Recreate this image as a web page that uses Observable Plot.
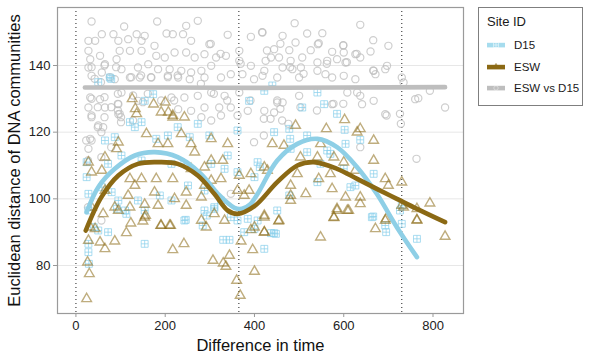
<!DOCTYPE html>
<html>
<head>
<meta charset="utf-8">
<script src="https://cdn.jsdelivr.net/npm/d3@7"></script>
<script src="https://cdn.jsdelivr.net/npm/@observablehq/plot@0.6"></script>
<style>
  body { margin: 0; background: #fff; font-family: "Liberation Sans", Arial, sans-serif; }
  #wrap { position: relative; width: 590px; height: 358px; }
  .legend { position: absolute; left: 478px; top: 7px; width: 105px; height: 99px;
            border: 1px solid #7f7f7f; box-sizing: border-box; color: #1a1a1a; }
  .legend .title { position: absolute; left: 8px; top: 6px; font-size: 13px; }
  .legend .row { position: absolute; left: 8px; height: 16px; display: flex; align-items: center; }
  .legend .row span { margin-left: 9px; font-size: 11.5px; }
</style>
</head>
<body>
<div id="wrap"></div>
<script>
// Sites and their colours
const sites = ["D15", "ESW", "ESW vs D15"];
const siteColors = ["#87CEEB", "#8B6914", "#BEBEBE"];

// Axis ticks and one-year reference marks (days)
const xTicks = [0, 200, 400, 600, 800];
const yTicks = [80, 100, 120, 140];
const yearMarks = [0, 365, 730];

// D15: [difference in time, Euclidean distance]
const d15Points = [
  [28,84],[29,80.5],[28,86.5],[154,86.5],[246,93.7],[330,87.7],[344,87.7],[422,85],[444,89.7],[437,89.7],
  [377,90],[400,91],[666,94.7],[695,90],[764,88],[730,92.5],[72,90],[50,90.5],[40,91.5],[113,95.5],
  [92,97],[284,92],[293,95],[310,97],[407,93.5],[362,93.5],
  [585,125.5],[602,120.7],[637,117.7],[604,116.5],[444,120],[478,121],[480,118],[518,119],[407,111],[412,109.5],
  [481,115],[518,114],[563,114.5],[570,113.5],[548,110.5],[600,109],[615,103.5],[626,104],[667,107.5],[541,105],
  [451,96.5],[478,101],[663,94.5],[693,92],[448,89.5],[726,96.5],[730,98],
  [24,111],[24,106.5],[28,101.5],[28,96.5],[65,117.5],[87,118.5],[121,123],[132,121.5],[147,123],[180,118],
  [206,119],[228,121.5],[255,118.5],[273,122.5],[299,119],[340,113],[362,120.5],[333,109],[303,110.5],[58,103.5],
  [80,102],[95,99.5],[110,96.5],[139,99.5],[154,96.5],[188,101],[214,99.5],[251,104],[288,102.5],[288,96.5],
  [310,97.5],[325,99.5],[243,93.5],[347,94.5],[385,94],[400,106.5],[362,108],[102,113],[72,110.5],[147,111.5],
  [214,110.5],[243,110.5],
  [76,136.4],[50,135],[173,131.4],[154,129.4],[388,129.4],[422,132.4],[440,134],[541,131.9],[507,127.4],[556,128.4],
  [79,136]
];

// ESW
const eswPoints = [
  [24,70],[30,77.5],[26,81],[28,87.5],[54,87],[65,85],[87,87.3],[113,89.8],[123,92.7],[150,93.3],
  [156,95],[190,92],[212,92],[217,84.7],[242,86.5],[307,81.5],[330,80.7],[336,79.7],[344,83],[360,75.5],
  [368,71],[400,78.2],[396,84.7],[370,87.3],[422,90],[454,93.3],[548,88.5],[578,94.3],[671,91],[695,94],
  [764,93.7],[827,88.7],[793,98.7],[730,98],[637,98.5],[608,96.5],[585,97],[481,99.5],[422,95],[392,90.7],
  [333,93.5],[310,95.5],[281,93.5],[184,98],[154,98.3],[87,97.5],[61,95.5],[32,91.5],[43,91],
  [136,125.5],[158,119.5],[95,117],[91,115],[184,116.5],[206,116.5],[236,119.5],[258,116.5],[217,124.5],[243,124.5],
  [303,118],[340,116.5],[28,111],[65,112.5],[58,108.5],[35,108],[65,102.5],[95,96.5],[121,106],[132,104],
  [117,101],[147,106],[180,106],[176,102],[217,106],[221,100],[247,102],[247,98],[281,100.5],[288,104],
  [303,105.5],[325,106],[329,111.5],[288,109.5],[258,109],[266,114],[303,111.5],[366,107],[362,102.5],[377,101],
  [392,107.5],[388,102.5],[400,91.5],[292,91.5],[191,92],[210,92],[154,94.5],[121,97.5],[35,97.5],
  [126,130],[133,127],[174,128.4],[200,129],[191,126],[207,126],[217,125],
  [602,123.7],[637,121],[630,120],[667,117.5],[561,121],[492,122],[440,116.5],[466,116],[548,116.5],[503,112.5],
  [541,112.5],[578,112.5],[600,111],[667,111.5],[422,109.5],[429,108.5],[496,107.5],[544,106],[570,107.5],[626,108.5],
  [481,104],[515,101.5],[574,103],[604,100.5],[637,100.5],[693,106],[700,104],[730,105],[764,93.5],
  [585,96.5],[611,96.5],[578,94.5],[455,93.5],[422,94.5],[422,90],[481,101],[693,93.5],[734,97.5],[764,97]
];

// ESW vs D15
const crossPoints = [
  [35,153.2],[108,151.7],[182,153.2],[247,151.9],[273,153.4],[28,147.4],[43,147.4],[58,149.4],[84,149.4],[95,147.4],
  [117,147.9],[136,149.4],[154,148.9],[147,147.4],[203,149.6],[217,149.4],[240,149.4],[258,147.4],[299,146.4],[340,149.2],
  [392,148.6],[28,144.4],[32,141.9],[28,139.4],[35,136.9],[54,142.9],[65,140.4],[98,144.4],[91,141.9],[102,138.9],
  [121,144.4],[147,144.4],[176,145.9],[180,142.9],[162,140.4],[199,142.4],[221,143.9],[247,143.9],[266,142.4],[288,143.4],
  [314,142.4],[336,142.9],[366,144.4],[366,141.4],[392,139.9],[303,139.9],[281,138.4],[258,137.9],[236,138.4],[210,138.9],
  [184,138.9],[139,139.4],[121,136.4],[58,137.9],[32,130.4],[28,127.4],[54,129.9],[95,128.4],[102,131.9],[87,135.9],
  [143,136.4],[169,136.4],[206,136.9],[229,136.4],[255,135.9],[288,136.4],[325,136.4],[347,137.4],[373,137.4],[399,135.9],
  [214,130.4],[243,130.4],[273,130.9],[303,131.9],[333,130.9],[366,131.9],[288,127.4],[321,127.4],[347,127.4],[385,126.4],
  [258,126.4],[229,126.9],[95,125.4],[65,127.4],[139,129.4],
  [490,152.7],[637,152.2],[418,149.9],[463,148.9],[518,149.6],[552,149.7],[666,147.6],[700,145.9],[492,146.9],[444,144.9],
  [478,144.6],[526,144.6],[542,146.4],[574,144.1],[599,146.1],[600,143.9],[626,143.4],[637,142.4],[660,144.2],[425,141.4],
  [437,142.4],[455,142.4],[481,141.4],[507,142.4],[541,140.9],[563,141.4],[585,141.9],[604,140.9],[697,139.9],[422,138.4],
  [463,139.4],[485,138.9],[504,139.4],[541,138.4],[559,137.4],[574,136.4],[600,136.9],[626,135.9],[667,138.4],[671,137.4],
  [693,138.9],[418,136.9],[451,136.4],[500,136.4],[730,136.4],[734,134.9],[608,131.9],[630,131.9],[637,130.9],[667,129.4],
  [793,132.4],[760,129.9],[767,130.2],[827,127.4],[451,128.9],[463,128.9],[500,130.9],[574,128.4],[641,128.4],[422,126.4],
  [444,125.9],[693,125.4],
  [726,125.5],[696,125],[763,112],[637,115.5],[577,128.5],[399,117],[421,119],[458,127],[436,124],[421,124],
  [462,123.5],[476,122.5],[728,122.5],
  [32,118],[28,115],[35,124.5],[61,121.5],[50,122],[281,124.5],[303,123.5],[325,125],[362,125],[23,117.5],
  [49,121.5],[79,127.5],[94,126.5],[101,124.5],[56,135],
  [27,97.5],[57,93.5],[347,101.5],
  [35,139.5],[64,140],[90,139.5],[42,136],[76,136.5],[124,136.5],[146,137],[168,136.5],[206,136.5],[228,137],
  [35,130],[64,130.5],[94,131.5],[128,131],[161,131.5],[49,127.5],[94,128.5],[150,129],[191,129.5],[220,129.5],
  [35,125],[64,124.5],[98,125.5],[101,123],[128,123.5],[57,120],[35,117.5],[79,115.5],[57,112.5],[27,111.5],
  [417,150],[544,146.7],[599,146],[302,146.5],[324,143.5],[369,140.5],[458,146.5],[428,144.5],[480,139.5],[510,137.5],
  [562,140.5],[607,141],[629,143.5],[666,138.5],[280,134.5],[309,131.5],[339,129.5],[391,129.5],[451,129.5],[503,127.5],
  [540,126.5],[599,128.5]
];

// Smoothed trends per site
const d15Smooth = [
  [24,96],[50,103.5],[87,109],[132,113],[177,114],[228,112.5],[280,107.5],[318,101.5],[355,97.3],[372,97],
  [390,98.3],[407,101.5],[451,111.5],[496,116.5],[541,118],[585,115.5],[630,109.5],[674,101.5],[719,91.5],[764,82.5]
];
const eswSmooth = [
  [22,90.5],[57,100.5],[95,107],[139,110.5],[184,111],[228,110.5],[273,107],[310,101.5],[340,96.5],[362,95.5],
  [400,97.8],[451,105],[496,110],[533,111],[585,109],[630,106],[674,103],[719,100],[764,97],[827,93]
];
const crossSmooth = [
  [20,133.4],[200,133.4],[400,133.3],[600,133.4],[827,133.5]
];

// Open square with a plus inside
const squareCross = {
  draw(context, size) {
    const w = Math.sqrt(size) / 2;
    context.moveTo(-w, -w); context.lineTo(w, -w); context.lineTo(w, w); context.lineTo(-w, w); context.closePath();
    context.moveTo(0, -w); context.lineTo(0, w);
    context.moveTo(-w, 0); context.lineTo(w, 0);
  }
};

const rows = (pairs, site) => pairs.map(([x, y]) => ({x, y, site}));

const chart = Plot.plot({
  width: 590,
  height: 358,
  marginLeft: 57,
  marginRight: 127,
  marginTop: 7,
  marginBottom: 45,
  x: {domain: [-41.3, 868.3]},
  y: {domain: [65.6, 157.4]},
  style: {fontFamily: "Liberation Sans, Arial, sans-serif", fontSize: "13px", color: "#222", background: "#fff"},
  marks: [
    Plot.gridY(yTicks, {stroke: "#e4e4e4", strokeOpacity: 1, strokeWidth: 0.9}),
    Plot.ruleX(yearMarks, {stroke: "#333", strokeDasharray: "1,3", strokeWidth: 1.1}),
    Plot.dot(rows(crossPoints, sites[2]), {x: "x", y: "y", symbol: "circle", r: 3.6,
      stroke: siteColors[2], strokeOpacity: 0.75, strokeWidth: 1.2}),
    Plot.dot(rows(d15Points, sites[0]), {x: "x", y: "y", symbol: squareCross, r: 3.9,
      stroke: siteColors[0], strokeOpacity: 0.7, strokeWidth: 1}),
    Plot.dot(rows(eswPoints, sites[1]), {x: "x", y: "y", symbol: "triangle", r: 3.6,
      stroke: siteColors[1], strokeOpacity: 0.55, strokeWidth: 1.4}),
    Plot.line(d15Smooth, {x: d => d[0], y: d => d[1], stroke: "#8ECFE6", strokeWidth: 4.6, curve: "catmull-rom"}),
    Plot.line(eswSmooth, {x: d => d[0], y: d => d[1], stroke: siteColors[1], strokeWidth: 4.6, curve: "catmull-rom"}),
    Plot.line(crossSmooth, {x: d => d[0], y: d => d[1], stroke: siteColors[2], strokeWidth: 4.6, curve: "catmull-rom"}),
    Plot.frame({stroke: "#9a9a9a", strokeWidth: 1.2}),
    Plot.axisX(xTicks, {tickSize: 4, tickPadding: 3, label: null, stroke: "#999", fill: "#222", fontSize: 13}),
    Plot.axisY(yTicks, {tickSize: 4, tickPadding: 3, label: null, stroke: "#999", fill: "#222", fontSize: 13}),
    Plot.text(["Difference in time"], {frameAnchor: "bottom", textAnchor: "middle", lineAnchor: "middle",
      dy: 32, fontSize: 16.5, fill: "#111"}),
    Plot.text(["Euclidean distance of DNA communities"], {frameAnchor: "left", textAnchor: "middle", lineAnchor: "middle",
      rotate: -90, dx: -43, fontSize: 16.5, fill: "#111"})
  ]
});

const wrap = document.getElementById("wrap");
wrap.appendChild(chart);

// Legend box
const legend = document.createElement("div");
legend.className = "legend";
legend.innerHTML = `<div class="title">Site ID</div>`;
const keyShapes = [
  `<path d="M6.5,1.5h5v5h-5z M9,1.5v5 M6.5,4h5" fill="none" stroke="#fff" stroke-opacity="0.6" stroke-width="0.8"/>`,
  `<path d="M9,0.5L11.5,4.5H6.5Z" fill="none" stroke="${siteColors[1]}" stroke-opacity="0.7" stroke-width="1"/>`,
  `<circle cx="9" cy="4" r="2.2" fill="none" stroke="#fff" stroke-opacity="0.5" stroke-width="0.8"/>`
];
sites.forEach((s, i) => {
  const row = document.createElement("div");
  row.className = "row";
  row.style.top = (29 + i * 21.5) + "px";
  const col = i === 0 ? "#A6DCEE" : siteColors[i];
  row.innerHTML = `<svg width="18" height="8"><rect x="0" y="1.8" width="18" height="4.6" fill="${col}"/>${keyShapes[i]}</svg><span>${s}</span>`;
  legend.appendChild(row);
});
wrap.appendChild(legend);
</script>
</body>
</html>
